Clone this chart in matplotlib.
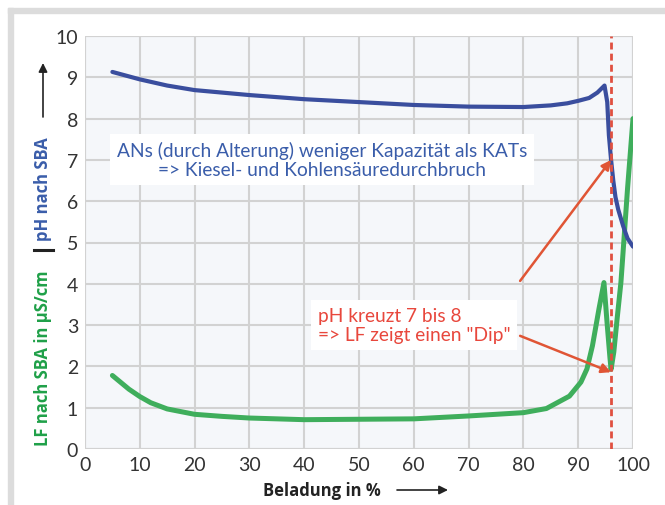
import matplotlib.pyplot as plt
from matplotlib.patches import Rectangle

# values
beladung_ph = [5, 10, 15, 20, 30, 40, 50, 60, 70, 80, 85, 88, 90, 92, 93.5, 94.8,
               95.3, 95.6, 96, 96.4, 96.8, 97.3, 98.2, 99, 100]
ph = [9.13, 8.95, 8.80, 8.69, 8.57, 8.47, 8.40, 8.33, 8.29, 8.28, 8.32, 8.37, 8.43, 8.5, 8.63, 8.80,
      8.4, 7.6, 7.0, 6.5, 6.1, 5.8, 5.4, 5.1, 4.9]

beladung_lf = [5, 8, 10, 12, 15, 20, 25, 30, 40, 50, 60, 70, 80, 84.2, 88.4, 90.5, 91.6,
               92.6, 93.8, 94.7, 95.3, 95.8, 96, 96.5, 97.1, 97.8, 98.1, 99, 100]
lf = [1.78, 1.45, 1.27, 1.12, 0.97, 0.84, 0.79, 0.75, 0.71, 0.72, 0.73, 0.80, 0.88, 0.98, 1.28, 1.62, 1.94,
      2.5, 3.4, 4.03, 3.0, 2.2, 1.93, 2.35, 3.15, 4.04, 4.6, 6.3, 8.0]

x_ticks = [0, 10, 20, 30, 40, 50, 60, 70, 80, 90, 100]
y_ticks = [0, 1, 2, 3, 4, 5, 6, 7, 8, 9, 10]
dip_x = 96

font = 'Lato'
label_font = 'Open Sans'
blue_txt = '#3a5daa'
blue_line = '#3a4e9e'
green = '#3fae5c'
green_txt = '#1fa048'
red = '#e8473c'
arrow_red = '#e05535'

W, H = 665, 506
fig = plt.figure(figsize=(W / 100, H / 100), dpi=100)
fig.patch.set_facecolor('white')

def fx(px):
    return px / W

def fy(py):
    return 1 - py / H

# grey frame (top + left)
fig.patches.append(Rectangle((fx(8), fy(14)), 1, fy(9) - fy(14), transform=fig.transFigure,
                             color='#dcdcdc', zorder=0))
fig.patches.append(Rectangle((fx(8), 0), fx(13) - fx(8), fy(9), transform=fig.transFigure,
                             color='#dcdcdc', zorder=0))

ax = fig.add_axes([fx(85), fy(450), fx(633) - fx(85), fy(37) - fy(450)])
ax.set_facecolor('#f5f7fa')
ax.set_xlim(0, 100)
ax.set_ylim(0, 10)
ax.set_xticks(x_ticks)
ax.set_yticks(y_ticks)
for s in ax.spines.values():
    s.set_visible(False)
ax.grid(True, color='#d2d2d2', lw=1.5)
ax.set_axisbelow(True)
ax.tick_params(length=0, labelsize=14, colors='#333333', pad=5)
for lab in ax.get_xticklabels() + ax.get_yticklabels():
    lab.set_family(font)
# grid lines at edges
for v in [0, 100]:
    ax.axvline(v, color='#d2d2d2', lw=1.5, zorder=0.5)
for v in [0, 10]:
    ax.axhline(v, color='#d2d2d2', lw=1.5, zorder=0.5)

ax.plot(beladung_lf, lf, color=green, lw=3.6, solid_capstyle='round', solid_joinstyle='round', zorder=3)
ax.plot(beladung_ph, ph, color=blue_line, lw=3.0, solid_capstyle='round', solid_joinstyle='round', zorder=3)
ax.axvline(dip_x, color='#e05040', lw=2, ls=(0, (2.5, 1.5)), zorder=4)

ax.text(43.2, 7.0, 'ANs (durch Alterung) weniger Kapazität als KATs\n=> Kiesel- und Kohlensäuredurchbruch',
        ha='center', va='center', fontsize=13.8, family=font, color=blue_txt, linespacing=1.15,
        bbox=dict(facecolor='white', edgecolor='none', pad=5), zorder=5)
ax.text(42.5, 3.0, 'pH kreuzt 7 bis 8\n=> LF zeigt einen "Dip"',
        ha='left', va='center', fontsize=13.8, family=font, color=red, linespacing=1.15,
        bbox=dict(facecolor='white', edgecolor='none', pad=5), zorder=5)

ax.annotate('', xy=(96, 7.0), xytext=(79.4, 4.07),
            arrowprops=dict(arrowstyle='-|>', color=arrow_red, lw=1.8, mutation_scale=14,
                            shrinkA=0, shrinkB=0), zorder=6)
ax.annotate('', xy=(96, 1.86), xytext=(79.4, 2.74),
            arrowprops=dict(arrowstyle='-|>', color=arrow_red, lw=1.8, mutation_scale=14,
                            shrinkA=0, shrinkB=0), zorder=6)

# axis labels
fig.text(fx(263), fy(491), 'Beladung in %', ha='left', va='center', fontsize=12,
         family=label_font, weight='bold', color='#222222')
ax.annotate('', xy=(fx(448), fy(491)), xytext=(fx(397), fy(491)), xycoords='figure fraction',
            textcoords='figure fraction',
            arrowprops=dict(arrowstyle='-|>', color='#222222', lw=1.2, mutation_scale=13,
                            shrinkA=0, shrinkB=0))

fig.text(fx(43), fy(446), 'LF nach SBA in µS/cm', rotation=90, ha='center', va='bottom',
         fontsize=12, family=label_font, weight='bold', color=green_txt)
fig.add_artist(plt.Line2D([fx(34), fx(53)], [fy(251), fy(251)], color='#222222', lw=2.2))
fig.text(fx(43), fy(241), 'pH nach SBA', rotation=90, ha='center', va='bottom',
         fontsize=12, family=label_font, weight='bold', color=blue_txt)
ax.annotate('', xy=(fx(43), fy(64)), xytext=(fx(43), fy(118)), xycoords='figure fraction',
            textcoords='figure fraction',
            arrowprops=dict(arrowstyle='-|>', color='#222222', lw=1.2, mutation_scale=13,
                            shrinkA=0, shrinkB=0))

fig.savefig('out.png', dpi=100)
